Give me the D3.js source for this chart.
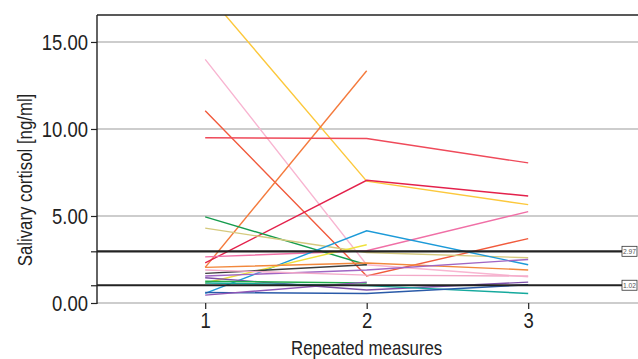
<!DOCTYPE html>
<html lang="en">
<head>
  <meta charset="UTF-8">
  <title>Salivary cortisol - repeated measures</title>
  <script src="https://d3js.org/d3.v7.min.js"></script>
  <style>
    body { margin: 0; background: #fff; }
    svg { display: block; font-family: 'Liberation Sans', Arial, sans-serif; }
  </style>
</head>
<body>
  <div id="chart"></div>
  <script>
    // measurement occasions
    const occasions = [1, 2, 3];
    const yTicks = [0, 5, 10, 15];
    const thresholds = [2.97, 1.02];

    // one row per subject: values at occasion 1, 2, 3 (null = missing)
    const subjectColors = [
      "#fcc83c", "#f8b5d1", "#f15a3c", "#f47a3c", "#ef4a5a", "#e3214b",
      "#f06fa6", "#169c4e", "#d5c97e", "#1c9ad8", "#efe13b", "#f2883c",
      "#3d3d3d", "#a066c4", "#7d4fa8", "#21ad4b", "#15a99d", "#2a5aa8",
      "#8e55b5", "#f3a9c8"
    ];
    const subjectValues = [
      [17.9, 7.0, 5.65],
      [14.0, 2.2, 1.5],
      [11.05, 1.55, 3.7],
      [2.05, 13.35, null],
      [9.5, 9.45, 8.05],
      [2.3, 7.05, 6.15],
      [2.65, 3.0, 5.25],
      [4.95, 2.2, null],
      [4.3, 2.9, 2.6],
      [0.55, 4.15, 2.2],
      [1.15, 3.35, null],
      [2.05, 2.3, 1.9],
      [1.7, 2.2, null],
      [1.55, 1.9, 2.5],
      [1.45, 0.75, 1.2],
      [1.25, 1.15, null],
      [1.15, 1.0, 0.55],
      [0.6, 0.55, 1.05],
      [0.45, 1.2, null],
      [1.9, 1.6, 1.55]
    ];

    const width = 638, height = 359;
    const margin = { top: 15, right: 0, bottom: 56, left: 97 };
    const squeeze = 0.84; // the reference uses a narrow typeface

    const svg = d3.select("#chart").append("svg")
      .attr("width", width)
      .attr("height", height);

    const x = d3.scaleLinear()
      .domain([0.33, 3.68])
      .range([margin.left, width - margin.right]);

    const y = d3.scaleLinear()
      .domain([0, 16.55])
      .range([height - margin.bottom, margin.top]);

    svg.append("clipPath").attr("id", "plot-clip")
      .append("rect")
      .attr("x", margin.left)
      .attr("y", margin.top)
      .attr("width", width - margin.left - margin.right)
      .attr("height", height - margin.top - margin.bottom);

    // grid lines
    svg.append("g")
      .selectAll("line")
      .data(yTicks)
      .join("line")
      .attr("x1", margin.left)
      .attr("x2", width)
      .attr("y1", d => y(d))
      .attr("y2", d => y(d))
      .attr("stroke", "#bdbdbd")
      .attr("stroke-width", 1.6);

    // subject lines
    const line = d3.line()
      .defined(d => d.v != null)
      .x(d => x(d.t))
      .y(d => y(d.v));

    svg.append("g")
      .attr("clip-path", "url(#plot-clip)")
      .selectAll("path")
      .data(subjectValues)
      .join("path")
      .attr("d", vals => line(vals.map((v, i) => ({ t: occasions[i], v }))))
      .attr("fill", "none")
      .attr("stroke", (d, i) => subjectColors[i])
      .attr("stroke-width", 1.4);

    // threshold lines with boxed labels
    const thr = svg.append("g");
    thr.selectAll("line")
      .data(thresholds)
      .join("line")
      .attr("x1", margin.left)
      .attr("x2", 622)
      .attr("y1", d => y(d))
      .attr("y2", d => y(d))
      .attr("stroke", "#222")
      .attr("stroke-width", 2.2);

    const lab = thr.selectAll("g.lab")
      .data(thresholds)
      .join("g")
      .attr("class", "lab")
      .attr("transform", d => `translate(622,${y(d)})`);
    lab.append("rect")
      .attr("x", 0).attr("y", -5)
      .attr("width", 15).attr("height", 10)
      .attr("fill", "#fff")
      .attr("stroke", "#333")
      .attr("stroke-width", 0.8);
    lab.append("text")
      .attr("x", 7.5 / squeeze).attr("y", 3)
      .attr("transform", `scale(${squeeze},1)`)
      .attr("text-anchor", "middle")
      .attr("font-size", 8)
      .attr("fill", "#555")
      .text(d => d.toFixed(2));

    // y axis
    const yAxis = svg.append("g")
      .attr("transform", `translate(${margin.left},0)`)
      .call(d3.axisLeft(y).tickValues(yTicks.concat(thresholds)).tickSize(6).tickPadding(3)
        .tickFormat(d => yTicks.includes(d) ? d.toFixed(2) : ""));
    yAxis.select(".domain").attr("stroke", "#222").attr("stroke-width", 1.4)
      .attr("d", `M0,${margin.top}V${y(0) + 1}`);
    yAxis.selectAll(".tick line").attr("stroke", "#222").attr("stroke-width", 1.2);
    yAxis.selectAll(".tick text")
      .attr("x", -9 / squeeze)
      .attr("transform", `scale(${squeeze},1)`)
      .attr("font-size", 22)
      .attr("fill", "#222")
      .attr("font-family", "inherit");

    // top border
    svg.append("line")
      .attr("x1", margin.left).attr("x2", width)
      .attr("y1", margin.top).attr("y2", margin.top)
      .attr("stroke", "#222").attr("stroke-width", 1.4);

    // x axis (ticks only)
    const xAxis = svg.append("g")
      .attr("transform", `translate(0,${y(0)})`)
      .call(d3.axisBottom(x).tickValues(occasions).tickSize(6).tickPadding(3).tickFormat(d3.format("d")));
    xAxis.select(".domain").remove();
    xAxis.selectAll(".tick line").attr("stroke", "#222").attr("stroke-width", 1.2);
    xAxis.selectAll(".tick text")
      .attr("transform", `scale(${squeeze},1)`)
      .attr("font-size", 22)
      .attr("fill", "#222")
      .attr("font-family", "inherit");

    // axis titles
    svg.append("g")
      .attr("transform", `translate(${x(2)},355) scale(${squeeze},1)`)
      .append("text")
      .attr("text-anchor", "middle")
      .attr("font-size", 20)
      .attr("fill", "#222")
      .text("Repeated measures");

    svg.append("g")
      .attr("transform", `translate(32,180) rotate(-90) scale(${squeeze},1)`)
      .append("text")
      .attr("text-anchor", "middle")
      .attr("font-size", 20)
      .attr("fill", "#222")
      .text("Salivary cortisol [ng/ml]");
  </script>
</body>
</html>
